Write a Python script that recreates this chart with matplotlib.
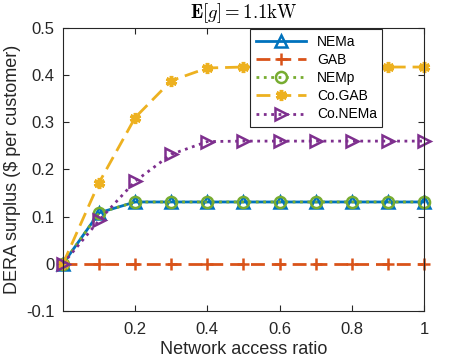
import numpy as np
import matplotlib.pyplot as plt

plt.rcParams['font.family'] = ['Liberation Sans', 'DejaVu Sans']
plt.rcParams['mathtext.fontset'] = 'cm'

ratio = [0, 0.1, 0.2, 0.3, 0.4, 0.5, 0.6, 0.7, 0.8, 0.9, 1.0]
nema = [0, 0.108, 0.131, 0.131, 0.131, 0.131, 0.131, 0.131, 0.131, 0.131, 0.131]
gab = [0, 0, 0, 0, 0, 0, 0, 0, 0, 0, 0]
nemp = [0, 0.108, 0.131, 0.131, 0.131, 0.131, 0.131, 0.131, 0.131, 0.131, 0.131]
co_gab = [0, 0.172, 0.31, 0.388, 0.415, 0.417, 0.417, 0.417, 0.417, 0.417, 0.417]
co_nema = [0, 0.092, 0.175, 0.232, 0.259, 0.26, 0.26, 0.26, 0.26, 0.26, 0.26]

fig = plt.figure(figsize=(4.7, 3.62), dpi=100)
ax = fig.add_axes([0.134, 0.141, 0.768, 0.782])

ax.plot(ratio, nema, color='#0072BD', ls='-', lw=2, marker='^', ms=8,
        mfc='none', mew=1.8, label='NEMa', clip_on=False)
ax.plot(ratio, gab, color='#D95319', ls=(0, (5, 2.5)), lw=2, marker='+', ms=9,
        mew=1.8, label='GAB', clip_on=False)
ax.plot(ratio, nemp, color='#77AC30', ls=':', lw=2, marker='o', ms=8,
        mfc='none', mew=1.8, label='NEMp', clip_on=False)
ax.plot(ratio, co_gab, color='#EDB120', ls=(0, (5, 2.5)), lw=2, marker=(6, 2, 0),
        ms=8, mew=2.5, label='Co.GAB', clip_on=False)
ax.plot(ratio, co_nema, color='#7E2F8E', ls=':', lw=2, marker='>', ms=8,
        mfc='none', mew=1.8, label='Co.NEMa', clip_on=False)

ax.set_xlim(0, 1)
ax.set_ylim(-0.1, 0.5)
ax.set_xticks([0.2, 0.4, 0.6, 0.8, 1.0])
ax.set_xticklabels(['0.2', '0.4', '0.6', '0.8', '1'])
yt = [-0.1, 0, 0.1, 0.2, 0.3, 0.4, 0.5]
ax.set_yticks(yt)
ax.set_yticklabels(['-0.1', '0', '0.1', '0.2', '0.3', '0.4', '0.5'])
ax.tick_params(direction='in', top=True, right=True, labelsize=12,
               colors='#262626', length=4)
ax.tick_params(axis='x', pad=8)
ax.tick_params(axis='y', pad=6)
for s in ax.spines.values():
    s.set_color('#262626')
    s.set_linewidth(0.8)

ax.set_xlabel('Network access ratio', fontsize=13, color='#262626', labelpad=3)
ax.set_ylabel('DERA surplus (\\$ per customer)', fontsize=13, color='#262626')
ax.set_title(r'$\mathbf{E}[g]=1.1\mathrm{kW}$', fontsize=13.5, pad=7)

leg = ax.legend(loc='upper left', bbox_to_anchor=(0.515, 1.0), fontsize=10,
                handlelength=3.6, labelspacing=0.3, borderaxespad=0.1,
                fancybox=False, framealpha=1, edgecolor='#262626')
leg.get_frame().set_linewidth(0.8)

plt.savefig('out.png', dpi=100)
